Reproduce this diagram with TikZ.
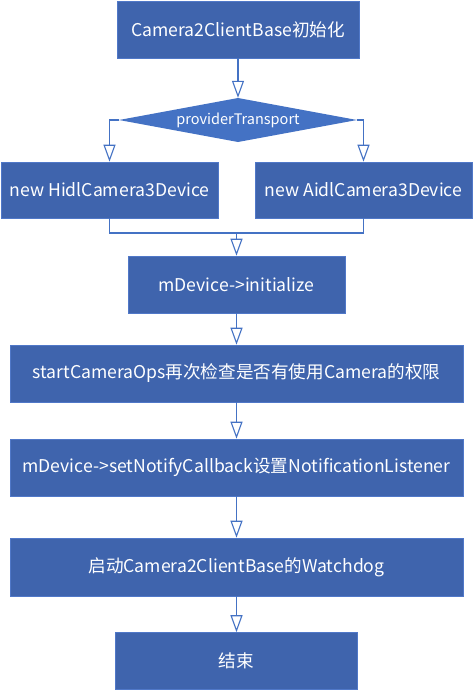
\documentclass[tikz,border=0pt]{standalone}
\usepackage{fontspec}
\setmainfont{Noto Sans CJK SC}
\usetikzlibrary{arrows.meta}
\definecolor{boxfill}{RGB}{63,100,173}
\definecolor{boxline}{RGB}{80,120,200}
\definecolor{linec}{RGB}{68,114,196}
\tikzset{
  box/.style={rectangle,fill=boxfill,draw=boxline,line width=0.6pt,text=white,inner sep=0pt,font=\fontsize{17.6}{20}\selectfont},
  decide/.style={rectangle,text=white,inner sep=0pt,font=\fontsize{14.5}{17}\selectfont,minimum width=237pt,minimum height=44pt},
  conn/.style={draw=linec,line width=1.3pt,-{Triangle[width=12pt,length=17pt,fill=white,line width=1.1pt]}},
  plain/.style={draw=linec,line width=1.3pt}
}
\begin{document}
\begin{tikzpicture}[x=1pt,y=-1pt]
\useasboundingbox (0,0) rectangle (473,691);
\node[box,minimum width=242pt,minimum height=57pt] (b1) at (238,29.5) {Camera2ClientBase初始化};
\fill[linec] (238,98) -- (357,120) -- (238,142) -- (119,120) -- cycle;
\node[decide] (dia) at (238,120) {providerTransport};
\node[box,minimum width=217pt,minimum height=56pt] (hidl) at (109.5,190) {new HidlCamera3Device};
\node[box,minimum width=217pt,minimum height=56pt] (aidl) at (363.5,190) {new AidlCamera3Device};
\node[box,minimum width=217pt,minimum height=57pt] (b3) at (236.5,284.5) {mDevice->initialize};
\node[box,minimum width=453pt,minimum height=57pt] (b4) at (236.5,373.5) {startCameraOps再次检查是否有使用Camera的权限};
\node[box,minimum width=453pt,minimum height=57pt] (b5) at (236.5,467.5) {mDevice->setNotifyCallback设置NotificationListener};
\node[box,minimum width=453pt,minimum height=58pt] (b6) at (236.5,567) {启动Camera2ClientBase的Watchdog};
\node[box,minimum width=242pt,minimum height=57pt] (b7) at (236.5,661) {结束};
\coordinate (m) at (236.5,233);
\draw[conn] (b1.south) -- (dia.north);
\draw[conn] (dia.west) -| (hidl.north);
\draw[conn] (dia.east) -| (aidl.north);
\draw[plain] (hidl.south) |- (m) -| (aidl.south);
\draw[conn] (m) -- (b3.north);
\draw[conn] (b3.south) -- (b4.north);
\draw[conn] (b4.south) -- (b5.north);
\draw[conn] (b5.south) -- (b6.north);
\draw[conn] (b6.south) -- (b7.north);
\end{tikzpicture}
\end{document}
